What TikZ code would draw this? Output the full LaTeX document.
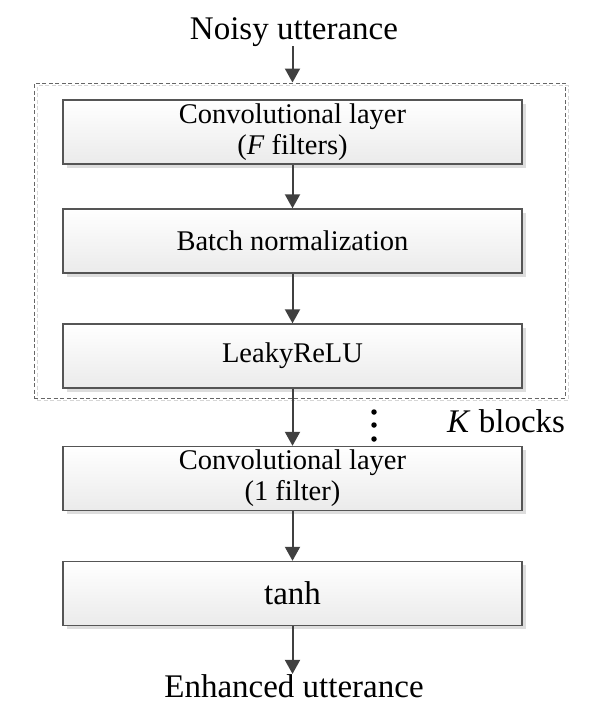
\documentclass[tikz,border=0pt]{standalone}
\usepackage{fontspec}
\setmainfont{Liberation Serif}
\usetikzlibrary{arrows.meta,shadows}
\definecolor{edgec}{HTML}{555555}
\definecolor{arrowc}{HTML}{404040}
\definecolor{shadec}{HTML}{DDDDDD}
\definecolor{dashc}{HTML}{666666}
\definecolor{dashlite}{HTML}{D6D6D6}
\begin{document}
\begin{tikzpicture}[x=1pt,y=-1pt,
  layerbox/.style={draw=edgec, line width=1.4pt, top color=white, bottom color=black!8,
    minimum width=459pt, minimum height=64pt, inner sep=0pt, align=center,
    font=\fontsize{28.5}{31}\selectfont,
    general shadow={fill=shadec, shadow xshift=3.5pt, shadow yshift=-3.5pt}},
  flowarrow/.style={draw=arrowc, line width=2pt, -{Triangle[length=14pt,width=15pt]}},
  bigtext/.style={inner sep=0pt, font=\fontsize{33}{36}\selectfont},
  dotnode/.style={circle, fill=black, minimum size=5.5pt, inner sep=0pt},
  blockframe/.style={draw=dashc, line width=1pt, dash pattern=on 4pt off 2.5pt,
    minimum width=531pt, minimum height=315pt, inner sep=0pt,
    general shadow={draw=dashlite, fill=none, line width=1pt, dash pattern=on 4pt off 2.5pt, shadow xshift=3pt, shadow yshift=-2.5pt}}
]
\useasboundingbox (0,0) rectangle (591,713);

\node[blockframe] (kblk) at (299.5,240.5) {};

\node[layerbox] (conv1) at (292.5,132) {Convolutional layer\\(\textit{F} filters)};
\node[layerbox] (bn) at (292.5,241) {Batch normalization};
\node[layerbox] (lrelu) at (292.5,356) {LeakyReLU};
\node[layerbox] (conv2) at (292.5,478.5) {Convolutional layer\\(1 filter)};
\node[layerbox, font=\fontsize{33}{35}\selectfont] (tanhbox) at (292.5,593.5) {tanh};

\node[bigtext, anchor=base] (noisy) at (294,39) {Noisy utterance};
\node[bigtext, anchor=base] (enh) at (294,697) {Enhanced utterance};
\node[bigtext, anchor=base west] (klabel) at (447,432) {\textit{K} blocks};

\node[dotnode] (dota) at (374,412) {};
\node[dotnode] (dotb) at (374,425) {};
\node[dotnode] (dotc) at (374,439) {};

\draw[flowarrow] (noisy.south -| conv1.center) -- (conv1.center |- kblk.north);
\draw[flowarrow] (conv1) -- (bn);
\draw[flowarrow] (bn) -- (lrelu);
\draw[flowarrow] (lrelu) -- (conv2);
\draw[flowarrow] (conv2) -- (tanhbox);
\draw[flowarrow] (tanhbox) -- (tanhbox.center |- enh.north);
\end{tikzpicture}
\end{document}
